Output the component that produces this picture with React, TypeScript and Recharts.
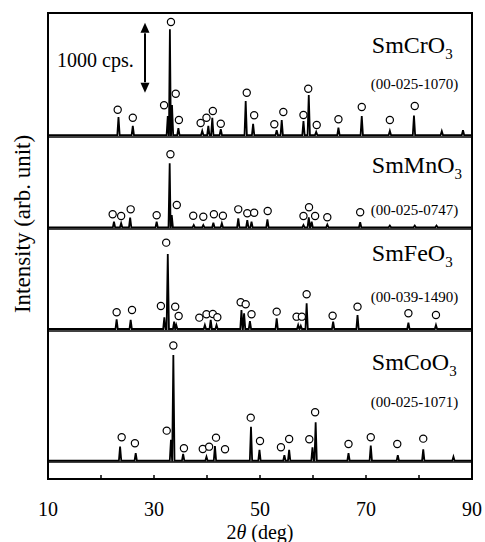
import React from 'react';
import {
  ComposedChart, Line, Scatter, XAxis, YAxis, ReferenceLine, ReferenceArea, ReferenceDot,
} from 'recharts';

// 2theta axis
const xTicks = [10, 20, 30, 40, 50, 60, 70, 80, 90];
const xLabels = [10, 30, 50, 70, 90];
const yMax = 6660; // cps, whole stacked frame

// panel order top -> bottom
const names = ['SmCrO', 'SmMnO', 'SmFeO', 'SmCoO'];
const cards = ['(00-025-1070)', '(00-025-0747)', '(00-039-1490)', '(00-025-1071)'];
const baselines = [4916, 3597, 2144, 262];
const separators = [4887, 3573, 2115, 243];
const nameY = [6088, 4373, 3115, 1558];
const cardY = [5573, 3773, 2529, 1029];
const labelX = 71.1;

// peaks [2theta, height above baseline in cps]
const crPeaks = [
  [23.3, 257], [26.0, 130], [32.6, 270], [33.0, 1510], [33.4, 430], [34.6, 100], [39.1, 60],
  [40.25, 130], [41.0, 245], [42.6, 85], [47.3, 485], [48.7, 160], [53.15, 70], [54.1, 215],
  [58.2, 200], [59.2, 570], [60.6, 45], [64.8, 105], [69.2, 270], [74.5, 60], [79.05, 280],
  [84.3, 55], [88.3, 70],
];
const mnPeaks = [
  [22.45, 80], [23.8, 57], [25.5, 137], [30.5, 80], [32.96, 915], [33.35, 176], [37.5, 33],
  [39.3, 33], [41.2, 66], [42.8, 57], [45.9, 129], [47.6, 104], [48.4, 80], [51.4, 114],
  [58.2, 33], [59.2, 143], [59.75, 80], [62.7, 40], [68.9, 72], [74.5, 25], [79.2, 25], [83.3, 25],
];
const fePeaks = [
  [22.95, 139], [25.6, 129], [31.95, 167], [32.6, 1072], [33.8, 104], [34.2, 57], [39.6, 57],
  [40.7, 129], [41.8, 57], [46.5, 272], [47.0, 224], [48.1, 114], [53.15, 153], [57.2, 57],
  [57.7, 45], [58.8, 367], [63.8, 104], [68.4, 200], [78.0, 90], [83.2, 57],
];
const coPeaks = [
  [23.6, 200], [26.55, 106], [33.2, 300], [33.65, 1511], [35.5, 96], [39.9, 57], [41.5, 210],
  [48.3, 486], [49.9, 153], [54.6, 80], [55.5, 153], [59.9, 191], [60.5, 549], [66.7, 106],
  [70.9, 215], [76.0, 80], [80.8, 163], [86.5, 57],
];

// reference markers (open circles) [2theta, height above baseline]
const crMarks = [
  [23.15, 362], [26.0, 248], [31.9, 425], [33.2, 1616], [34.1, 591], [34.7, 215], [38.8, 172],
  [39.9, 248], [41.1, 343], [42.6, 162], [47.5, 605], [48.9, 282], [52.7, 153], [54.4, 329],
  [58.2, 286], [59.1, 662], [60.7, 143], [64.8, 225], [69.2, 400], [74.5, 215], [79.2, 415],
];
const mnMarks = [
  [22.2, 186], [23.8, 162], [25.6, 257], [30.5, 172], [33.1, 1044], [34.3, 319], [37.4, 166],
  [39.3, 152], [41.3, 186], [43.0, 166], [45.9, 257], [47.6, 200], [48.9, 209], [51.45, 233],
  [58.2, 162], [59.25, 286], [60.4, 162], [62.7, 143], [68.9, 215],
];
const feMarks = [
  [22.95, 239], [25.85, 272], [31.3, 329], [32.3, 1234], [34.0, 319], [34.65, 186], [38.55, 162],
  [39.9, 210], [41.1, 215], [41.95, 167], [46.35, 382], [47.3, 353], [48.4, 210], [53.15, 248],
  [56.9, 176], [57.9, 176], [58.8, 496], [63.7, 190], [68.4, 319], [78.0, 225], [83.2, 200],
];
const coMarks = [
  [23.9, 335], [26.4, 249], [32.4, 429], [33.65, 1645], [35.65, 177], [39.2, 167], [40.4, 200],
  [41.7, 329], [43.4, 163], [48.25, 615], [50.0, 282], [53.95, 191], [55.5, 310], [59.3, 306],
  [60.4, 692], [66.7, 239], [70.9, 335], [75.9, 239], [80.8, 315],
];

// scale arrow
const arrowX = 28.3;
const arrowLow = 5520;
const arrowSpan = 1000;

const FONT = '"Liberation Serif", "Times New Roman", serif';
const HALF = 0.22; // peak half width, deg

const buildTrace = (peaks: number[][], base: number) => {
  const pts: { x: number; y: number }[] = [{ x: 10, y: base }];
  peaks.forEach(([p, h]) => {
    pts.push({ x: p - HALF, y: base }, { x: p, y: base + h }, { x: p + HALF, y: base });
  });
  pts.push({ x: 90, y: base });
  return pts.sort((a, b) => a.x - b.x);
};

const buildMarks = (marks: number[][], base: number) => marks.map(([x, h]) => ({ x, y: base + h }));

const allPeaks = [crPeaks, mnPeaks, fePeaks, coPeaks];
const allMarks = [crMarks, mnMarks, feMarks, coMarks];

const XTick = (props: any) => {
  const { x, y, payload } = props;
  const v = payload.value;
  return (
    <g>
      {v > 10 && v < 90 && <line x1={x} x2={x} y1={y} y2={y - 4} stroke="#000" strokeWidth={1.5} />}
      {xLabels.includes(v) && (
        <text x={x} y={y + 37} textAnchor="middle" fontSize={20} fontFamily={FONT} fill="#000">{v}</text>
      )}
    </g>
  );
};

const Circle = (props: any) => (
  <circle cx={props.cx} cy={props.cy} r={3.6} fill="#fff" stroke="#000" strokeWidth={1.2} />
);

const Head = (up: boolean) => (props: any) => {
  const { cx, cy } = props;
  const d = up ? 10 : -10;
  return <polygon points={`${cx},${cy} ${cx - 4.5},${cy + d} ${cx + 4.5},${cy + d}`} fill="#000" />;
};

const NameText = (i: number) => (props: any) => (
  <text x={props.cx} y={props.cy} fontSize={24} fontFamily={FONT} fill="#000">
    {names[i]}
    <tspan fontSize={15} dy={6}>3</tspan>
  </text>
);

const CardText = (i: number) => (props: any) => (
  <text x={props.cx} y={props.cy} fontSize={15} fontFamily={FONT} fill="#000">{cards[i]}</text>
);

const CpsText = (props: any) => (
  <text x={props.cx} y={props.cy} fontSize={20} fontFamily={FONT} fill="#000">1000 cps.</text>
);

export default function App() {
  return (
    <div style={{ position: 'absolute', left: 0, top: 0, width: 485, height: 542, overflow: 'hidden' }}>
      <ComposedChart width={485} height={542} margin={{ top: 13, right: 13, left: 0, bottom: 0 }}>
        <XAxis
          type="number"
          dataKey="x"
          domain={[10, 90]}
          ticks={xTicks}
          interval={0}
          axisLine={false}
          tickLine={false}
          tickSize={0}
          tickMargin={0}
          height={63}
          tick={<XTick />}
          label={{
            content: (p: any) => {
              const vb = p.viewBox;
              return (
                <text x={vb.x + vb.width / 2} y={vb.y + 60} textAnchor="middle" fontSize={20} fontFamily={FONT} fill="#000">
                  2<tspan fontStyle="italic">θ</tspan> (deg)
                </text>
              );
            },
          }}
        />
        <YAxis
          type="number"
          dataKey="y"
          domain={[0, yMax]}
          width={48}
          tick={false}
          axisLine={false}
          tickLine={false}
          label={{
            content: () => {
              const cx = 22;
              const cy = 224;
              return (
                <text x={cx} y={cy} transform={`rotate(-90 ${cx} ${cy})`} textAnchor="middle" dominantBaseline="central" fontSize={23} fontFamily={FONT} fill="#000">
                  Intensity (arb. unit)
                </text>
              );
            },
          }}
        />
        {separators.map((s, i) => (
          <ReferenceLine key={`sep${i}`} y={s} stroke="#000" strokeWidth={1.5} />
        ))}
        {allPeaks.map((pk, i) => (
          <Line
            key={`tr${i}`}
            data={buildTrace(pk, baselines[i])}
            dataKey="y"
            type="linear"
            stroke="#000"
            strokeWidth={1.8}
            dot={false}
            isAnimationActive={false}
          />
        ))}
        {allMarks.map((mk, i) => (
          <Scatter key={`mk${i}`} data={buildMarks(mk, baselines[i])} dataKey="y" shape={<Circle />} isAnimationActive={false} />
        ))}
        {names.map((_, i) => (
          <ReferenceDot key={`nm${i}`} x={labelX} y={nameY[i]} r={0} shape={NameText(i)} />
        ))}
        {cards.map((_, i) => (
          <ReferenceDot key={`cd${i}`} x={labelX - 0.2} y={cardY[i]} r={0} shape={CardText(i)} />
        ))}
        <ReferenceDot x={11.7} y={5887} r={0} shape={CpsText} />
        <ReferenceLine
          segment={[{ x: arrowX, y: arrowLow + 150 }, { x: arrowX, y: arrowLow + arrowSpan - 150 }]}
          stroke="#000"
          strokeWidth={2}
        />
        <ReferenceDot x={arrowX} y={arrowLow + arrowSpan} r={0} shape={Head(true)} />
        <ReferenceDot x={arrowX} y={arrowLow} r={0} shape={Head(false)} />
        <ReferenceArea x1={10} x2={90} y1={0} y2={yMax} fill="none" stroke="#000" strokeWidth={2} />
      </ComposedChart>
    </div>
  );
}
